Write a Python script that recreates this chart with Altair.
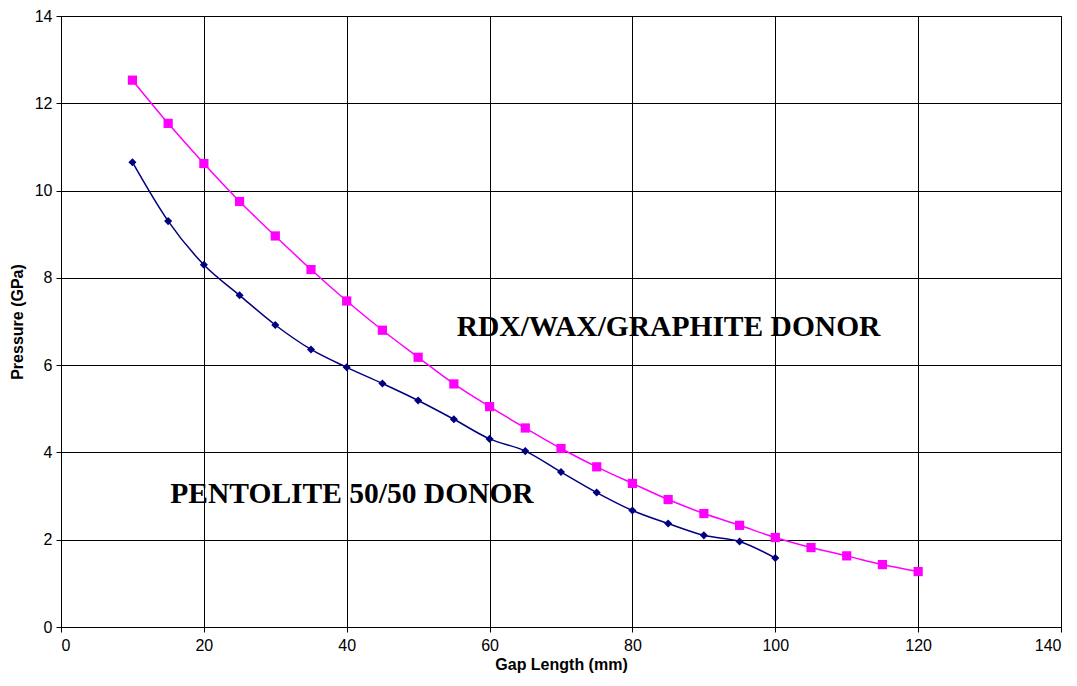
import altair as alt
import pandas as pd

gap_pent = [10, 15, 20, 25, 30, 35, 40, 45, 50, 55, 60, 65, 70, 75, 80, 85, 90, 95, 100]
p_pent = [10.65, 9.3, 8.3, 7.6, 6.92, 6.36, 5.95, 5.58, 5.19, 4.76, 4.31, 4.03, 3.55, 3.08, 2.67, 2.37, 2.1, 1.96, 1.58]

gap_rdx = [10, 15, 20, 25, 30, 35, 40, 45, 50, 55, 60, 65, 70, 75, 80, 85, 90, 95, 100, 105, 110, 115, 120]
p_rdx = [12.53, 11.54, 10.62, 9.75, 8.96, 8.19, 7.47, 6.8, 6.18, 5.57, 5.05, 4.56, 4.09, 3.67, 3.29, 2.92, 2.6, 2.33, 2.05, 1.82, 1.63, 1.43, 1.27]

label_text = ["RDX/WAX/GRAPHITE DONOR", "PENTOLITE 50/50 DONOR"]
label_x = [55.4, 15.3]
label_y = [6.87, 3.05]

pent = pd.DataFrame({"gap": gap_pent, "p": p_pent})
rdx = pd.DataFrame({"gap": gap_rdx, "p": p_rdx})
labels = pd.DataFrame({"t": label_text, "x": label_x, "y": label_y})

xs = alt.Scale(domain=[0, 140], nice=False)
ys = alt.Scale(domain=[0, 14], nice=False)
xax = alt.Axis(values=list(range(0, 141, 20)), title="Gap Length (mm)", grid=True)
yax = alt.Axis(values=list(range(0, 15, 2)), title="Pressure (GPa)", grid=True)

def series(df, color, shape, size):
    base = alt.Chart(df)
    line = base.mark_line(color=color, strokeWidth=1.5, interpolate="monotone").encode(
        x=alt.X("gap:Q", scale=xs, axis=xax),
        y=alt.Y("p:Q", scale=ys, axis=yax),
    )
    pts = base.mark_point(shape=shape, filled=True, color=color, size=size, opacity=1).encode(
        x=alt.X("gap:Q", scale=xs),
        y=alt.Y("p:Q", scale=ys),
    )
    return line + pts

text = alt.Chart(labels).mark_text(
    font="Liberation Serif", fontWeight="bold", fontSize=29.5, align="left", baseline="middle", color="black"
).encode(
    x=alt.X("x:Q", scale=xs),
    y=alt.Y("y:Q", scale=ys),
    text="t:N",
)

chart = alt.layer(
    series(rdx, "#FF00FF", "square", 85),
    series(pent, "#000080", "diamond", 65),
    text,
).properties(
    width=1000,
    height=611,
    autosize=alt.AutoSizeParams(type="none"),
    padding={"left": 53, "top": 8, "right": 8, "bottom": 51},
).configure_view(
    stroke="black", strokeWidth=1
).configure_axis(
    gridColor="black", gridOpacity=1, gridWidth=1,
    domainColor="black", tickColor="black", tickSize=5,
    labelFont="Liberation Sans", labelFontSize=16, labelColor="black",
    titleFont="Liberation Sans", titleFontSize=16, titleFontWeight="bold", titleColor="black",
).configure_axisY(
    titlePadding=9, labelPadding=4
).configure_axisX(
    titlePadding=3, labelPadding=5
)

chart.save("out.html", embed_options={"renderer": "svg", "actions": False})
